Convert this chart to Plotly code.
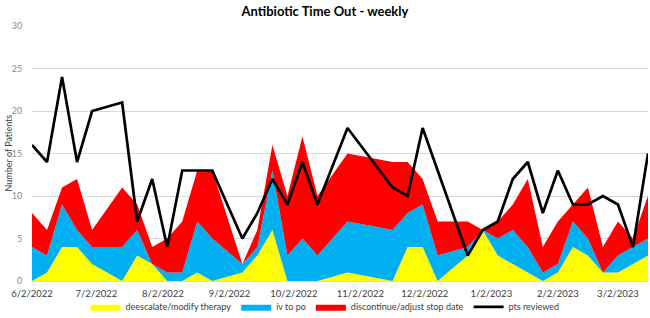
import plotly.graph_objects as go

dates = ["2022-06-02", "2022-06-09", "2022-06-16", "2022-06-23", "2022-06-30",
         "2022-07-14", "2022-07-21", "2022-07-28", "2022-08-04", "2022-08-11",
         "2022-08-18", "2022-08-25", "2022-09-08", "2022-09-15", "2022-09-22",
         "2022-09-29", "2022-10-06", "2022-10-13", "2022-10-27", "2022-11-17",
         "2022-11-24", "2022-12-01", "2022-12-08", "2022-12-22", "2022-12-29",
         "2023-01-05", "2023-01-12", "2023-01-19", "2023-01-26", "2023-02-02",
         "2023-02-09", "2023-02-16", "2023-02-23", "2023-03-02", "2023-03-09",
         "2023-03-16"]

deescalate = [0, 1, 4, 4, 2, 0, 3, 2, 0, 0, 1, 0, 1, 3, 6, 0, 0, 0, 1, 0,
              4, 4, 0, 3, 6, 3, 2, 1, 0, 1, 4, 3, 1, 1, 2, 3]
iv_to_po = [4, 2, 5, 2, 2, 4, 3, 0, 1, 1, 6, 5, 1, 1, 7, 3, 5, 3, 6, 6,
            4, 5, 3, 1, 0, 2, 4, 3, 1, 1, 3, 2, 0, 2, 2, 2]
discontinue = [4, 3, 2, 6, 2, 7, 3, 2, 4, 6, 6, 8, 0, 2, 3, 7, 12, 7, 8, 8,
               6, 3, 4, 3, 0, 2, 3, 8, 3, 5, 2, 6, 3, 4, 1, 5]
pts_reviewed = [16, 14, 24, 14, 20, 21, 7, 12, 4, 13, 13, 13, 5, 8, 12, 9, 14, 9, 18, 11,
                10, 18, 13, 3, 6, 7, 12, 14, 8, 13, 9, 9, 10, 9, 4, 15]

tick_dates = ["2022-06-02", "2022-07-02", "2022-08-02", "2022-09-02", "2022-10-02",
              "2022-11-02", "2022-12-02", "2023-01-02", "2023-02-02", "2023-03-02"]
tick_labels = ["6/2/2022", "7/2/2022", "8/2/2022", "9/2/2022", "10/2/2022",
               "11/2/2022", "12/2/2022", "1/2/2023", "2/2/2023", "3/2/2023"]

FONT = "Lato, Open Sans, sans-serif"

fig = go.Figure()
for name, vals, col in [("deescalate/modify therapy", deescalate, "#FFFF00"),
                        ("iv to po", iv_to_po, "#00B0F0"),
                        ("discontinue/adjust stop date", discontinue, "#FF0000")]:
    fig.add_trace(go.Scatter(x=dates, y=vals, name=name, mode="lines",
                             stackgroup="one", line=dict(width=0, color=col),
                             fillcolor=col))
fig.add_trace(go.Scatter(x=dates, y=pts_reviewed, name="pts reviewed", mode="lines",
                         line=dict(color="black", width=2.7)))

fig.update_layout(
    width=650, height=318,
    margin=dict(l=32, r=2, t=26, b=37, autoexpand=False),
    paper_bgcolor="white", plot_bgcolor="white",
    font=dict(family=FONT, size=9, color="#404040"),
    title=dict(text="<b>Antibiotic Time Out - weekly</b>", x=0.5, xanchor="center",
               y=0.965, yanchor="middle", font=dict(size=13, color="black", family=FONT)),
    showlegend=True,
    legend=dict(orientation="h", x=0.5, xanchor="center", xref="container",
                y=0.035, yanchor="middle", yref="container",
                font=dict(size=9, color="#404040"), traceorder="normal",
                itemwidth=30, tracegroupgap=0, bgcolor="rgba(0,0,0,0)"),
    xaxis=dict(type="date", range=["2022-06-02", "2023-03-16"], automargin=False,
               tickmode="array", tickvals=tick_dates, ticktext=tick_labels,
               showgrid=False, showline=True, linecolor="#d9d9d9",
               ticks="outside", ticklen=4, tickcolor="rgba(0,0,0,0)",
               tickfont=dict(size=9.5, color="#404040")),
    yaxis=dict(range=[0, 30], dtick=5, showgrid=True, gridcolor="#d9d9d9",
               gridwidth=1, zeroline=False, ticks="outside", ticklen=7,
               tickcolor="rgba(0,0,0,0)", automargin=False,
               tickfont=dict(size=9, color="#8c8c8c")),
    annotations=[dict(text="Number of Patients", textangle=-90, xref="paper", yref="paper",
                      x=(8 - 32) / 616, y=0.5, xanchor="center", yanchor="middle",
                      showarrow=False, font=dict(size=9, color="#404040", family=FONT))],
)

fig.write_html("out.html")
